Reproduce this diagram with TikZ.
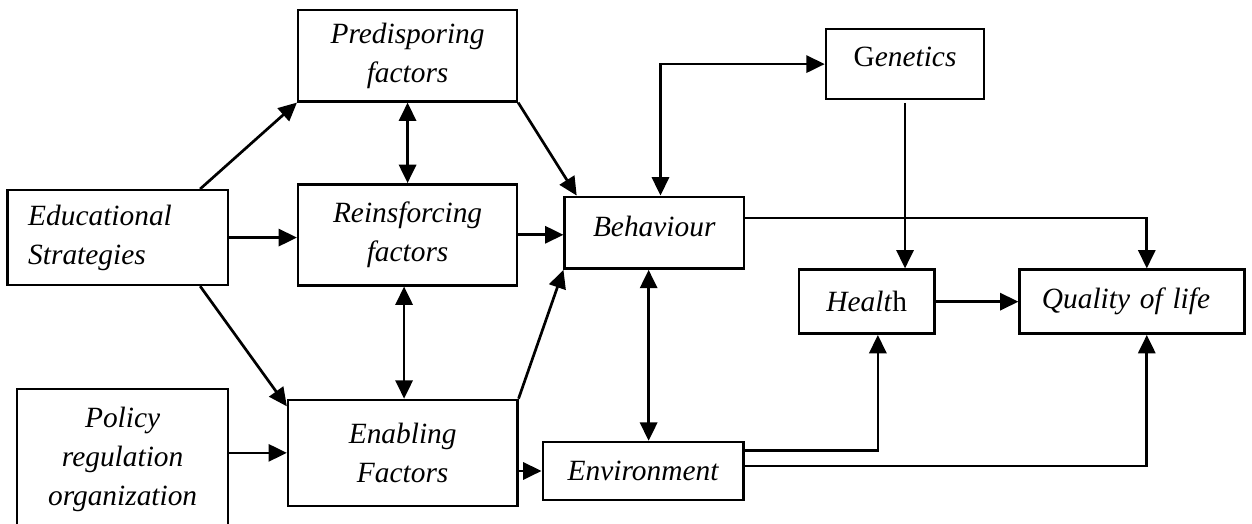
\documentclass[tikz,border=0pt]{standalone}
\usepackage{fontspec}
\setmainfont{Liberation Serif}
\usetikzlibrary{arrows.meta}
\tikzstyle{box}=[draw, line width=1pt, align=center, inner sep=2pt, font=\itshape\fontsize{12}{16}\selectfont]
\tikzstyle{flow}=[line width=1.1pt, -{Triangle[length=7.5pt,width=7pt]}]
\tikzstyle{both}=[line width=1.1pt, {Triangle[length=7.5pt,width=7pt]}-{Triangle[length=7.5pt,width=7pt]}]

\begin{document}
\begin{tikzpicture}

    \useasboundingbox (0,0) rectangle (17.97,-7.51);

    \node[box, minimum width=3.17cm, minimum height=1.36cm, text width=2.57cm, align=left, inner xsep=0.3cm] (edu) at (1.69,-3.41) {Educational\\Strategies};
    \node[box, minimum width=3.14cm, minimum height=1.31cm] (pre) at (5.85,-0.80) {Predisporing\\factors};
    \node[box, minimum width=3.14cm, minimum height=1.45cm] (rein) at (5.85,-3.37) {Reinsforcing\\factors};
    \node[box, minimum width=3.03cm, minimum height=2.02cm] (pol) at (1.76,-6.59) {Policy\\regulation\\organization};
    \node[box, minimum width=3.29cm, minimum height=1.52cm] (ena) at (5.78,-6.50) {Enabling\\Factors};
    \node[box, minimum width=2.57cm, text height=0.5cm, text depth=0.39cm] (beh) at (9.39,-3.34) {Behaviour};
    \node[box, minimum width=2.88cm, minimum height=0.83cm] (env) at (9.23,-6.76) {Environment};
    \node[box, minimum width=2.27cm, text height=0.47cm, text depth=0.39cm] (gen) at (12.99,-0.92) {\textup{G}enetics};
    \node[box, minimum width=1.95cm, minimum height=0.92cm] (hea) at (12.44,-4.33) {Healt\textup{h}};
    \node[box, minimum width=3.23cm, minimum height=0.92cm, text width=2.59cm, align=left, inner xsep=0.32cm] (qol) at (16.25,-4.33) {Quality of life};

%strategies to factors
    \draw[flow] ([xshift=-0.42cm]edu.north east) -- (pre.south west);
    \draw[flow] (edu.east) -- (edu.east -| rein.west);
    \draw[flow] ([xshift=-0.42cm]edu.south east) -- ([yshift=-0.11cm]ena.north west);
    \draw[flow] (pol.east |- ena.west) -- (ena.west);
    \draw[both] (pre.south) -- (rein.north);
    \draw[both] ([xshift=-0.05cm]rein.south) -- ([xshift=-0.05cm]rein.south |- ena.north);

%factors to behaviour and environment
    \draw[flow] (pre.south east) -- ([xshift=0.19cm]beh.north west);
    \draw[flow] (rein.east) -- (rein.east -| beh.west);
    \draw[flow] (ena.north east) -- (beh.south west);
    \draw[flow] (env.west -| ena.east) -- (env.west);
    \draw[both] ([xshift=-0.08cm]beh.south) -- ([xshift=-0.08cm]beh.south |- env.north);
    \draw[both] ([xshift=0.09cm]beh.north) |- (gen.west);

%outcomes
    \draw[flow] ([yshift=-0.04cm]gen.south) -- (gen.south |- hea.north);
    \draw[flow] ([yshift=0.21cm]beh.east) -| ([xshift=0.21cm]qol.north);
    \draw[flow] (hea.east) -- (qol.west);
    \draw[flow] ([yshift=0.29cm]env.east) -| ([xshift=0.16cm]hea.south);
    \draw[flow] ([yshift=0.07cm]env.east) -| ([xshift=0.21cm]qol.south);

\end{tikzpicture}
\end{document}
